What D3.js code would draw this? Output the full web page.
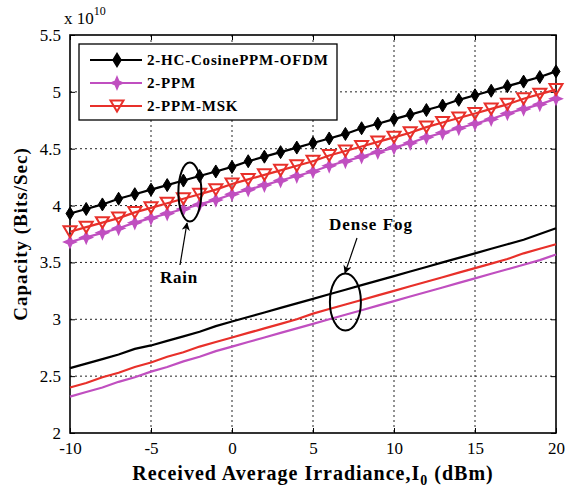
<!DOCTYPE html>
<html>
<head>
<meta charset="utf-8">
<script src="https://cdn.jsdelivr.net/npm/d3@7"></script>
<style>
  body { margin: 0; background: #fff; }
  text { font-family: "Liberation Serif", "Times New Roman", serif; }
</style>
</head>
<body>
<svg width="569" height="496"></svg>
<script>
var irradiance = d3.range(-10, 21);

var rainHC  = [3.93, 3.97, 4.01, 4.06, 4.10, 4.14, 4.18, 4.22, 4.26, 4.30, 4.34, 4.39, 4.43, 4.47, 4.51, 4.55, 4.59, 4.63, 4.68, 4.72, 4.76, 4.80, 4.84, 4.88, 4.93, 4.97, 5.01, 5.05, 5.09, 5.13, 5.18];
var rainPPM = [3.68, 3.72, 3.76, 3.80, 3.85, 3.89, 3.93, 3.97, 4.01, 4.05, 4.10, 4.14, 4.18, 4.22, 4.26, 4.30, 4.35, 4.39, 4.43, 4.47, 4.51, 4.55, 4.60, 4.64, 4.68, 4.72, 4.76, 4.81, 4.85, 4.89, 4.94];
var rainMSK = [3.77, 3.81, 3.85, 3.89, 3.94, 3.98, 4.02, 4.06, 4.10, 4.14, 4.19, 4.23, 4.27, 4.31, 4.35, 4.39, 4.44, 4.48, 4.52, 4.56, 4.60, 4.64, 4.69, 4.73, 4.77, 4.81, 4.85, 4.89, 4.94, 4.98, 5.02];

var fogHC  = [2.57, 2.61, 2.65, 2.69, 2.74, 2.77, 2.81, 2.85, 2.89, 2.94, 2.98, 3.02, 3.06, 3.10, 3.14, 3.18, 3.22, 3.26, 3.30, 3.34, 3.38, 3.42, 3.46, 3.50, 3.54, 3.58, 3.62, 3.66, 3.70, 3.75, 3.80];
var fogPPM = [2.32, 2.36, 2.40, 2.45, 2.49, 2.54, 2.58, 2.63, 2.67, 2.72, 2.76, 2.80, 2.84, 2.88, 2.92, 2.96, 3.00, 3.04, 3.08, 3.12, 3.16, 3.20, 3.24, 3.28, 3.32, 3.36, 3.40, 3.44, 3.48, 3.52, 3.57];
var fogMSK = [2.40, 2.44, 2.49, 2.53, 2.58, 2.62, 2.67, 2.71, 2.76, 2.80, 2.84, 2.88, 2.92, 2.96, 3.00, 3.05, 3.09, 3.13, 3.17, 3.21, 3.25, 3.29, 3.33, 3.37, 3.41, 3.45, 3.49, 3.53, 3.58, 3.62, 3.66];

var xTicks = [-10, -5, 0, 5, 10, 15, 20];
var yTicks = [2, 2.5, 3, 3.5, 4, 4.5, 5, 5.5];
var legendNames = ["2-HC-CosinePPM-OFDM", "2-PPM", "2-PPM-MSK"];

var width = 569;
var height = 496;
var margin = {left: 70, right: 13, top: 35, bottom: 63};

var black = "#000000", magenta = "#c04fc0", red = "#e8302a";

var xScale = d3.scaleLinear().domain([-10, 20]).range([margin.left, width - margin.right]);
var yScale = d3.scaleLinear().domain([2, 5.5]).range([height - margin.bottom, margin.top]);

var svg = d3.select("svg");

// grid
svg.append("g").selectAll("line")
  .data(xTicks.slice(1, -1))
  .enter().append("line")
  .attr("x1", xScale).attr("x2", xScale)
  .attr("y1", margin.top).attr("y2", height - margin.bottom)
  .attr("stroke", "#222").attr("stroke-width", 1).attr("stroke-dasharray", "2,3");

svg.append("g").selectAll("line")
  .data(yTicks.slice(1, -1))
  .enter().append("line")
  .attr("y1", yScale).attr("y2", yScale)
  .attr("x1", margin.left).attr("x2", width - margin.right)
  .attr("stroke", "#222").attr("stroke-width", 1).attr("stroke-dasharray", "2,3");

// axes
function plain(d) { return String(d); }
var axisBottom = d3.axisBottom(xScale).tickValues(xTicks).tickFormat(plain).tickSizeInner(-5).tickSizeOuter(0).tickPadding(9);
var axisLeft = d3.axisLeft(yScale).tickValues(yTicks).tickFormat(plain).tickSizeInner(-5).tickSizeOuter(0).tickPadding(9);
var axisTop = d3.axisTop(xScale).tickValues(xTicks).tickSizeInner(-5).tickSizeOuter(0).tickFormat("");
var axisRight = d3.axisRight(yScale).tickValues(yTicks).tickSizeInner(-5).tickSizeOuter(0).tickFormat("");

function styleAxis(g) {
  g.select(".domain").remove();
  g.attr("font-family", "Liberation Serif");
  g.selectAll("line").attr("stroke", "#000");
  g.selectAll("text").attr("font-size", 17).attr("fill", "#000");
}

svg.append("g").attr("transform", "translate(0," + (height - margin.bottom) + ")").call(axisBottom).call(styleAxis);
svg.append("g").attr("transform", "translate(" + margin.left + ",0)").call(axisLeft).call(styleAxis);
svg.append("g").attr("transform", "translate(0," + margin.top + ")").call(axisTop).call(styleAxis);
svg.append("g").attr("transform", "translate(" + (width - margin.right) + ",0)").call(axisRight).call(styleAxis);

svg.append("rect")
  .attr("x", margin.left).attr("y", margin.top)
  .attr("width", width - margin.left - margin.right)
  .attr("height", height - margin.top - margin.bottom)
  .attr("fill", "none").attr("stroke", "#000").attr("stroke-width", 1.6);

// lines
var line = d3.line()
  .x(function (d, i) { return xScale(irradiance[i]); })
  .y(function (d) { return yScale(d); });

function drawLine(values, color) {
  svg.append("path").datum(values)
    .attr("d", line).attr("fill", "none")
    .attr("stroke", color).attr("stroke-width", 2.2);
}

drawLine(fogPPM, magenta);
drawLine(fogMSK, red);
drawLine(fogHC, black);
drawLine(rainPPM, magenta);
drawLine(rainMSK, red);
drawLine(rainHC, black);

// markers
var diamond = "M0,-6.5L4,0L0,6.5L-4,0Z";
var star = "M0,-6L1.8,-1.8L6,0L1.8,1.8L0,6L-1.8,1.8L-6,0L-1.8,-1.8Z";
var tri = "M-6.5,-5.5L6.5,-5.5L0,5.5Z";

function drawMarkers(values, path, fill, stroke, sw) {
  svg.append("g").selectAll("path")
    .data(values).enter().append("path")
    .attr("transform", function (d, i) { return "translate(" + xScale(irradiance[i]) + "," + yScale(d) + ")"; })
    .attr("d", path).attr("fill", fill).attr("stroke", stroke).attr("stroke-width", sw);
}

drawMarkers(rainPPM, star, magenta, magenta, 1.5);
drawMarkers(rainMSK, tri, "none", red, 2);
drawMarkers(rainHC, diamond, black, black, 1);

// legend
var legend = svg.append("g");
legend.append("rect")
  .attr("x", 79).attr("y", 44).attr("width", 258).attr("height", 76)
  .attr("fill", "#fff").attr("stroke", "#000").attr("stroke-width", 1.3);

var legendColors = [black, magenta, red];
var legendMarks = [diamond, star, tri];
var legendFill = [black, magenta, "none"];
legendNames.forEach(function (name, i) {
  var y = 60 + i * 23;
  legend.append("line").attr("x1", 90).attr("x2", 142).attr("y1", y).attr("y2", y)
    .attr("stroke", legendColors[i]).attr("stroke-width", 2.2);
  legend.append("path").attr("transform", "translate(117," + y + ")")
    .attr("d", legendMarks[i]).attr("fill", legendFill[i])
    .attr("stroke", legendColors[i]).attr("stroke-width", i == 2 ? 2 : 1.5);
  legend.append("text").attr("x", 147).attr("y", y + 5)
    .attr("font-size", 15).attr("font-weight", "bold").attr("letter-spacing", 0.8).text(name);
});

// annotations
svg.append("ellipse").attr("cx", xScale(-2.6)).attr("cy", 192).attr("rx", 11.5).attr("ry", 29.5)
  .attr("fill", "none").attr("stroke", "#000").attr("stroke-width", 2);
svg.append("ellipse").attr("cx", xScale(7)).attr("cy", 302).attr("rx", 15.5).attr("ry", 28.5)
  .attr("fill", "none").attr("stroke", "#000").attr("stroke-width", 2);

svg.append("defs").append("marker")
  .attr("id", "arrow").attr("viewBox", "0 0 10 10").attr("refX", 9).attr("refY", 5)
  .attr("markerWidth", 7).attr("markerHeight", 7).attr("orient", "auto-start-reverse")
  .append("path").attr("d", "M0,0L10,5L0,10L3,5Z").attr("fill", "#000");

svg.append("line").attr("x1", 180).attr("y1", 265).attr("x2", 187).attr("y2", 223)
  .attr("stroke", "#000").attr("stroke-width", 1.2).attr("marker-end", "url(#arrow)");
svg.append("line").attr("x1", 357).attr("y1", 238).attr("x2", 345).attr("y2", 273)
  .attr("stroke", "#000").attr("stroke-width", 1.2).attr("marker-end", "url(#arrow)");

svg.append("text").attr("x", 179).attr("y", 283).attr("text-anchor", "middle")
  .attr("font-size", 17).attr("font-weight", "bold").attr("letter-spacing", 0.8).text("Rain");
svg.append("text").attr("x", 371).attr("y", 230).attr("text-anchor", "middle")
  .attr("font-size", 17).attr("font-weight", "bold").attr("letter-spacing", 1).text("Dense Fog");

// exponent
var expo = svg.append("text").attr("x", 64).attr("y", 24).attr("font-size", 17);
expo.append("tspan").text("x 10");
expo.append("tspan").attr("dy", -9).attr("font-size", 12).text("10");

// axis labels
svg.append("text")
  .attr("transform", "rotate(-90)")
  .attr("x", -234).attr("y", 27)
  .attr("text-anchor", "middle").attr("font-size", 19).attr("font-weight", "bold").attr("letter-spacing", 1)
  .text("Capacity (Bits/Sec)");

var xl = svg.append("text").attr("x", 313).attr("y", 480)
  .attr("text-anchor", "middle").attr("font-size", 20).attr("font-weight", "bold").attr("letter-spacing", 1);
xl.append("tspan").text("Received Average Irradiance,I");
xl.append("tspan").attr("dy", 5).attr("font-size", 14).text("0");
xl.append("tspan").attr("dy", -5).text(" (dBm)");
</script>
</body>
</html>
